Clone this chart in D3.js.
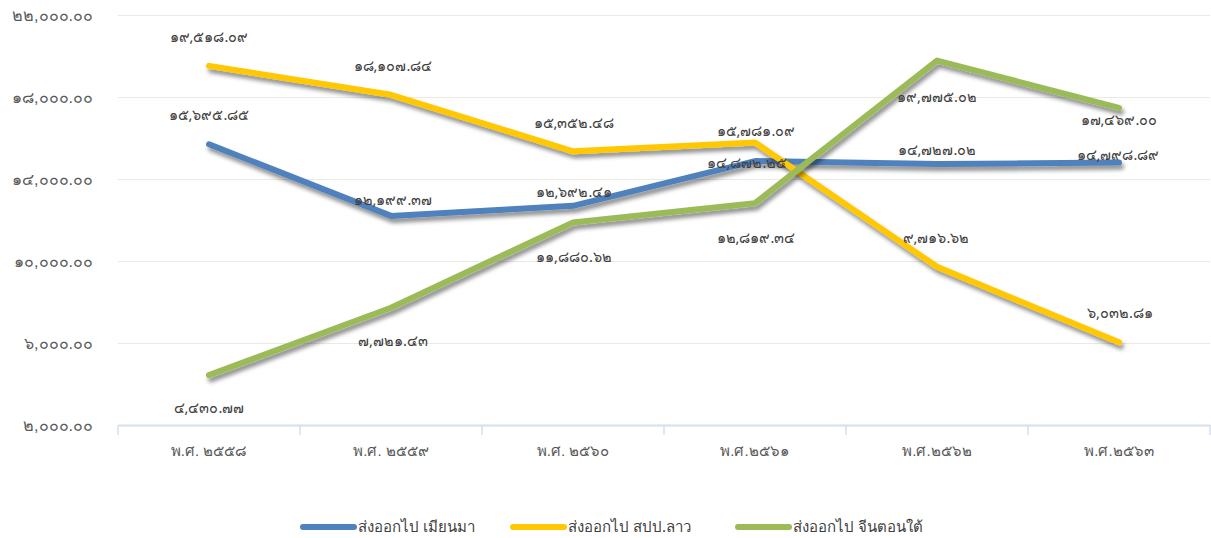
<!DOCTYPE html>
<html>
<head>
<meta charset="utf-8">
<script src="https://cdn.jsdelivr.net/npm/d3@7"></script>
<style>
  html, body { margin: 0; padding: 0; background: #fff; }
  svg { display: block; font-family: Tahoma, "Noto Sans", "DejaVu Sans", sans-serif; }
</style>
</head>
<body>
<svg id="chart" width="1211" height="538"></svg>
<script>
const categories = ["พ.ศ. ๒๕๕๘", "พ.ศ. ๒๕๕๙", "พ.ศ. ๒๕๖๐", "พ.ศ.๒๕๖๑", "พ.ศ.๒๕๖๒", "พ.ศ.๒๕๖๓"];
const myanmar = [15695.85, 12199.37, 12692.41, 14872.25, 14727.02, 14798.89];
const laos = [19518.09, 18107.84, 15352.48, 15781.09, 9716.62, 6032.81];
const southChina = [4430.77, 7721.43, 11880.62, 12819.34, 19775.02, 17469.00];
const seriesNames = ["ส่งออกไป เมียนมา", "ส่งออกไป สปป.ลาว", "ส่งออกไป จีนตอนใต้"];
const yTicks = [2000, 6000, 10000, 14000, 18000, 22000];

// label vertical offsets (style, not data)
const labelOffsets = [
  [-29, -16, -14, 2, -14, -8],
  [-29, -29, -28, -12, -29, -29],
  [33, 33, 34, 35, 36, 12]
];
const labelDx = [
  [0, 2, 1, -8, 0, -1],
  [0, 2, 1, 1, -1, 1],
  [0, 2, 1, 1, 0, 0]
];
const colors = ["#4F81BD", "#FFC800", "#9BBB59"];

const thaiDigits = "๐๑๒๓๔๕๖๗๘๙";
const toThai = s => s.replace(/[0-9]/g, d => thaiDigits[+d]);
const fmt = v => toThai(d3.format(",.2f")(v));

const svg = d3.select("#chart");
const x = d3.scaleBand().domain(categories).range([118, 1210]);
const y = d3.scaleLinear().domain([2000, 22000]).range([425, 15]);

const defs = svg.append("defs");
const f = defs.append("filter").attr("id", "shadow").attr("x", "-10%").attr("y", "-20%").attr("width", "120%").attr("height", "150%");
f.append("feDropShadow").attr("dx", 2).attr("dy", 4).attr("stdDeviation", 2.2).attr("flood-color", "#000").attr("flood-opacity", 0.45);

// gridlines
svg.append("g").selectAll("line").data(yTicks.filter(t => t !== 2000)).join("line")
  .attr("x1", 118).attr("x2", 1210)
  .attr("y1", d => y(d) + 0.5).attr("y2", d => y(d) + 0.5)
  .attr("stroke", "#EAEAE2").attr("stroke-width", 1);

// y axis labels
const yAxis = d3.axisLeft(y).tickValues(yTicks).tickSize(0).tickPadding(0)
  .tickFormat(d => fmt(d));
const yg = svg.append("g").attr("transform", "translate(93,0)").call(yAxis);
yg.select(".domain").remove();
yg.selectAll("text").attr("font-size", 16).attr("fill", "#595959");

// x axis
const xAxis = d3.axisBottom(x).tickSize(0).tickPadding(20);
const xg = svg.append("g").attr("transform", "translate(0,425)").call(xAxis);
xg.select(".domain").attr("stroke", "#D5E0EE").attr("stroke-width", 2);
xg.selectAll("text").attr("font-size", 15).attr("fill", "#595959");
// band boundary ticks
const bounds = categories.map(c => x(c)).concat([x.range()[1]]);
xg.append("g").selectAll("line").data(bounds).join("line")
  .attr("x1", d => d).attr("x2", d => d).attr("y1", 0).attr("y2", 10)
  .attr("stroke", "#D5E0EE").attr("stroke-width", 1.5);

// lines
const data = [myanmar, laos, southChina];
const line = d3.line().x((d, i) => x(categories[i]) + x.bandwidth() / 2).y(d => y(d));
svg.append("g").selectAll("path").data(data).join("path")
  .attr("d", d => line(d))
  .attr("fill", "none")
  .attr("stroke", (d, i) => colors[i])
  .attr("stroke-width", 6)
  .attr("stroke-linejoin", "round")
  .attr("stroke-linecap", "round")
  .attr("filter", "url(#shadow)");

// data labels
data.forEach((vals, si) => {
  svg.append("g").selectAll("text").data(vals).join("text")
    .attr("x", (d, i) => x(categories[i]) + x.bandwidth() / 2 + labelDx[si][i])
    .attr("y", (d, i) => y(d) + labelOffsets[si][i])
    .attr("dy", "0.35em")
    .attr("text-anchor", "middle")
    .attr("font-size", 14.5)
    .attr("fill", "#404040")
    .text(d => fmt(d));
});

// legend
const legendX = [300, 510, 735];
const lg = svg.append("g");
seriesNames.forEach((name, i) => {
  lg.append("line")
    .attr("x1", legendX[i] + 3).attr("x2", legendX[i] + 54)
    .attr("y1", 527).attr("y2", 527)
    .attr("stroke", colors[i]).attr("stroke-width", 6).attr("stroke-linecap", "round");
  lg.append("text")
    .attr("x", legendX[i] + 58).attr("y", 527).attr("dy", "0.35em")
    .attr("font-size", 15).attr("fill", "#404040")
    .text(name);
});
</script>
</body>
</html>
